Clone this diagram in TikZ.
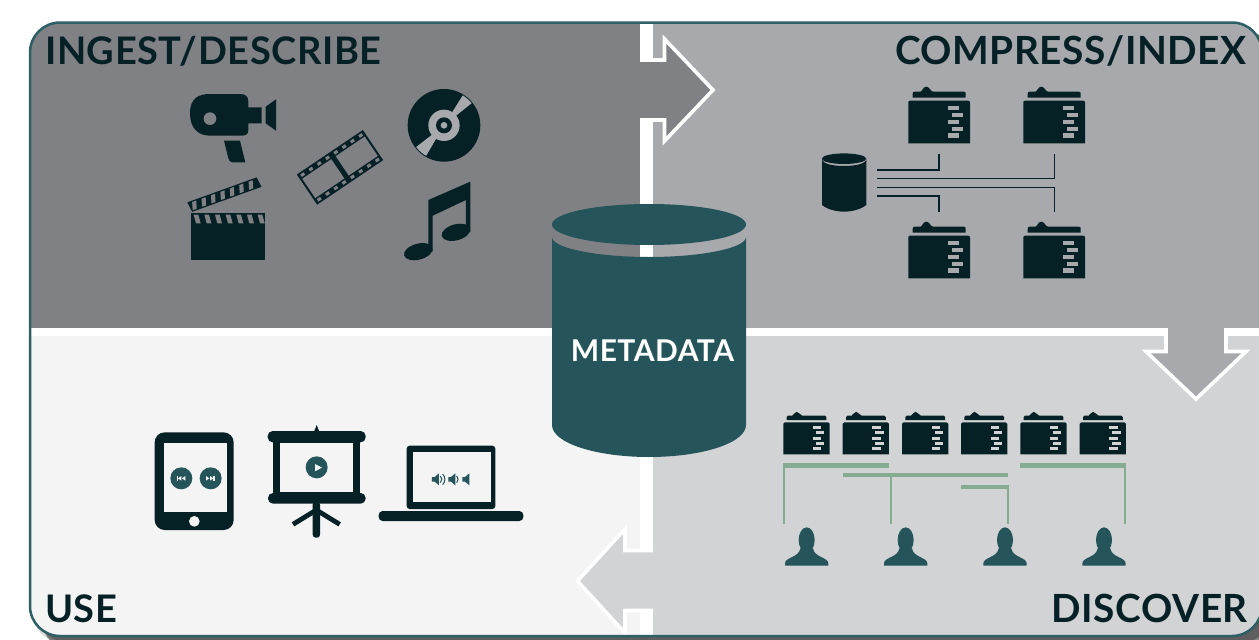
\documentclass[tikz,border=0pt]{standalone}
\usepackage{fontspec}
\setmainfont{Lato}[LetterSpace=1.5]
\definecolor{qa}{HTML}{808184}
\definecolor{qb}{HTML}{A7A9AC}
\definecolor{qc}{HTML}{D1D3D4}
\definecolor{qd}{HTML}{F4F4F5}
\definecolor{ink}{HTML}{062126}
\definecolor{teal}{HTML}{25555B}
\definecolor{rim}{HTML}{2D5F64}
\definecolor{leaf}{HTML}{85AB93}
\tikzset{
  heading/.style={font=\fontsize{38}{38}\selectfont\bfseries,text=ink,inner sep=0pt},
  heading wide/.style={font=\fontsize{38.8}{38}\selectfont\bfseries,text=ink,inner sep=0pt},
  arrowedge/.style={draw=white,line width=3.6pt,miter limit=10},
  tiny link/.style={draw=ink,line width=1.6pt},
  green bar/.style={fill=leaf},
  green link/.style={draw=leaf,line width=1.7pt},
}
\newcommand{\folderico}[4]{%
  \begin{scope}[shift={(#1,#2)},scale=#3]
    \fill[ink] (0,42.6) -- (0,2) .. controls (0,.5) and (.5,0) .. (2,0) -- (59.7,0) .. controls (61.2,0) and (61.7,.5) .. (61.7,2) -- (61.7,42.6) -- cycle;
    \fill[ink] (4.4,-3) -- (4.4,-7) .. controls (4.4,-8.5) and (5,-9) .. (6.5,-9) -- (12,-9) .. controls (14,-9) and (14.5,-14) .. (18,-14) .. controls (21.5,-14) and (22,-9) .. (25,-9) -- (55.4,-9) .. controls (57,-9) and (57.4,-8.5) .. (57.4,-7) -- (57.4,-3) -- cycle;
    \fill[#4] (39.4,5.3) rectangle (50.4,9.3);
    \fill[#4] (43.4,12) rectangle (54.4,16);
    \fill[#4] (39.4,19) rectangle (50.4,23);
    \fill[#4] (43.4,26) rectangle (54.4,30);
    \fill[#4] (39.4,32.7) rectangle (50.4,37);
  \end{scope}}
\newcommand{\personico}[1]{%
  \begin{scope}[shift={(#1,0)}]
    \fill[teal] (-65,497) -- (65,497) -- (65,490) .. controls (65,472) and (22,472) .. (19,445) -- (-19,445) .. controls (-22,472) and (-65,472) .. (-65,490) -- cycle;
    \fill[teal] (0,420) ellipse [x radius=24,y radius=38];
  \end{scope}}
\newcommand{\speakerico}[1]{%
  \fill[teal] (#1,186) -- (#1+8,186) -- (#1+21,175) -- (#1+21,211) -- (#1+8,200) -- (#1,200) -- cycle;}
\begin{document}
\begin{tikzpicture}[x=1pt,y=-1pt]
\useasboundingbox (0,0) rectangle (1259,640);
% shadow
\fill[black,opacity=.14] (33,30) [rounded corners=30pt] rectangle (1272,643);
\fill[black,opacity=.22] (37,30) [rounded corners=30pt] rectangle (1272,642);
\fill[black,opacity=.45] (42,30) [rounded corners=30pt] rectangle (1272,650);
\fill[white] (30,22.5) [rounded corners=30pt] rectangle (1262,636);
\begin{scope}
  \clip[rounded corners=30pt] (30,22.5) rectangle (1262,636);
  \fill[qa] (30,20) rectangle (640,328);
  \fill[qb] (653,20) rectangle (1265,327.5);
  \fill[qd] (30,336) rectangle (640,640);
  \fill[qc] (653,336) rectangle (1265,640);
  % right arrow
  \fill[qa] (640,60) -- (664.5,60) -- (664.5,39) -- (713,90) -- (664.5,141) -- (664.5,120) -- (640,120) -- cycle;
  \draw[arrowedge] (640,60) -- (664.5,60) -- (664.5,39) -- (713,90) -- (664.5,141) -- (664.5,120) -- (640,120);
  % down arrow
  \fill[qb] (1166,327) -- (1166,351.5) -- (1146,351.5) -- (1196,399) -- (1246,351.5) -- (1226,351.5) -- (1226,327) -- cycle;
  \draw[arrowedge] (1166,328) -- (1166,351.5) -- (1146,351.5) -- (1196,399) -- (1246,351.5) -- (1226,351.5) -- (1226,328);
  % left arrow
  \fill[qc] (653,550.5) -- (625,550.5) -- (625,529) -- (577.5,581) -- (625,633) -- (625,610.5) -- (653,610.5) -- cycle;
  \draw[arrowedge] (653,550.5) -- (625,550.5) -- (625,529) -- (577.5,581) -- (625,633) -- (625,610.5) -- (653,610.5);
\end{scope}
\draw[rim,line width=2.5pt,rounded corners=30pt] (30,22.5) rectangle (1262,636);
% headings
\node[heading,anchor=base west] (ingest) at (45,64) {INGEST/DESCRIBE};
\node[heading wide,anchor=base east] (compress) at (1247,64) {COMPRESS/INDEX};
\node[heading,anchor=base west] (use) at (45,622.5) {USE};
\node[heading wide,anchor=base east] (discover) at (1248,622.5) {DISCOVER};
% central cylinder
\fill[teal] (552,237) .. controls (552,248) and (596,257) .. (649,257) .. controls (702,257) and (746,248) .. (746,237) -- (746,425) .. controls (746,443) and (702,457) .. (649,457) .. controls (596,457) and (552,443) .. (552,425) -- cycle;
\fill[teal] (649,224.5) ellipse [x radius=97,y radius=20.5];
\node[font=\fontsize{30}{30}\selectfont\bfseries,text=white,inner sep=0pt,anchor=base] (metadata) at (652.5,361.7) {METADATA};
% ingest icons
\begin{scope}[shift={(160,70)},scale=1/3]
  % camera
  \fill[ink] (90,130) .. controls (90,85) and (115,72) .. (150,72) -- (240,72) .. controls (258,72) and (265,80) .. (265,95) -- (265,112) -- (305,112) -- (305,160) -- (265,160) -- (265,180) .. controls (265,192) and (258,197) .. (245,197) -- (150,197) .. controls (115,197) and (90,175) .. (90,130) -- cycle;
  \fill[qa] (150,146) circle [radius=19];
  \fill[ink] (317,110) -- (348,88) -- (348,182) -- (317,160) -- cycle;
  \fill[ink] (192,212) -- (240,212) -- (256,277) -- (218,277) .. controls (210,277) and (207,272) .. (205,265) -- cycle;
  % film
  \begin{scope}[shift={(540,292)},rotate=34]
    \fill[ink] (-119.5,-54.5) rectangle (119.5,54.5);
    \fill[qa] (-113,-35) rectangle (-8,35);
    \fill[qa] (8,-35) rectangle (113,35);
    \foreach \k in {-105,-75,-45,-15,15,45,75,105} {
      \fill[qa] (\k-6,-49) rectangle (\k+6,-40);
      \fill[qa] (\k-6,40) rectangle (\k+6,49);
    }
  \end{scope}
  % disc
  \fill[ink] (852,166) circle [radius=109];
  \begin{scope}
    \clip (852,166) circle [radius=106];
    \fill[qb] (852,166) -- (922,54) -- (952,86) -- cycle;
    \fill[qb] (852,166) -- (752,244) -- (784,282) -- cycle;
  \end{scope}
  \fill[qb] (852,166) circle [radius=47];
  \fill[ink] (852,166) circle [radius=24];
  \fill[qb] (852,166) circle [radius=10];
  % clapper
  \fill[ink] (94,430) rectangle (316,570);
  \foreach \i in {0,...,6} {
    \fill[qa] ({101+\i*32},434) -- ({115+\i*32},434) -- ({122+\i*32},460) -- ({108+\i*32},460) -- cycle;
  }
  \begin{scope}[shift={(82,397)},rotate=19.8]
    \fill[ink] (0,0) -- (221,0) -- (225,31.6) -- (4,31.6) -- cycle;
    \foreach \i in {0,...,6} {
      \fill[qa] ({14+\i*30},4) -- ({27+\i*30},4) -- ({20+\i*30},27.6) -- ({7+\i*30},27.6) -- cycle;
    }
  \end{scope}
  % notes
  \fill[ink] (805,390) -- (931,335) -- (931,485) -- (918,485) -- (918,390) -- (818,437) -- (818,545) -- (805,545) -- cycle;
  \fill[ink,rotate around={15:(775,545)}] (775,545) ellipse [x radius=44,y radius=24];
  \fill[ink,rotate around={15:(888,487)}] (888,487) ellipse [x radius=44,y radius=24];
\end{scope}
% compress icons
\folderico{908.3}{100.7}{1}{qb}
\folderico{1023.3}{100.7}{1}{qb}
\folderico{908.3}{235.7}{1}{qb}
\folderico{1023.3}{235.7}{1}{qb}
\fill[ink] (822,158.7) -- (822,205) .. controls (828,210) and (838,211.7) .. (844,211.7) .. controls (850,211.7) and (860,210) .. (866.3,205) -- (866.3,158.7) .. controls (866.3,164) and (855,166) .. (844,166) .. controls (833,166) and (822,164) .. (822,158.7) -- cycle;
\fill[ink] (844,158.7) ellipse [x radius=22.2,y radius=5.3];
\draw[tiny link] (877,170) -- (938.7,170) -- (938.7,154.3);
\draw[tiny link] (877,178.3) -- (1054.3,178.3) -- (1054.3,154.3);
\draw[tiny link] (877,187.3) -- (1054.3,187.3) -- (1054.3,211.7);
\draw[tiny link] (877,195.7) -- (938.7,195.7) -- (938.7,211.7);
% discover icons
\foreach \fx in {783.3,842.7,902,961,1020.3,1079.7} {
  \folderico{\fx}{422.3}{0.75}{qc}
}
\begin{scope}[shift={(770,400)},scale=1/3]
  \fill[green bar] (40,190) rectangle (356,203);
  \fill[green bar] (218,218) rectangle (715,231);
  \fill[green bar] (574,254) rectangle (715,266);
  \fill[green bar] (751,190) rectangle (1068,203);
  \draw[green link] (41,190) -- (41,372);
  \draw[green link] (362,231) -- (362,372);
  \draw[green link] (713,254) -- (713,372);
  \draw[green link] (1066,190) -- (1066,372);
  \personico{110}
  \personico{407}
  \personico{705}
  \personico{1002}
\end{scope}
% use icons
\begin{scope}[shift={(140,415)},scale=1/3]
  % tablet
  \fill[ink,rounded corners=10pt] (44,52) rectangle (281,345);
  \fill[qd] (73,84) rectangle (260,290);
  \fill[qd] (163,319) circle [radius=16];
  \fill[teal] (124,190) circle [radius=33];
  \fill[teal] (212,190) circle [radius=33];
  \fill[qd] (110,183) rectangle (114,197);
  \fill[qd] (124,183) -- (124,197) -- (114,190) -- cycle;
  \fill[qd] (136,183) -- (136,197) -- (126,190) -- cycle;
  \fill[qd] (198,183) -- (198,197) -- (208,190) -- cycle;
  \fill[qd] (210,183) -- (210,197) -- (220,190) -- cycle;
  \fill[qd] (220,183) rectangle (224,197);
  % projector
  \fill[ink] (530,30) -- (538,50) -- (522,50) -- cycle;
  \fill[ink] (398,70) rectangle (660,250);
  \fill[qd] (420,84) rectangle (640,232);
  \fill[ink,rounded corners=5pt] (383,48) rectangle (677,82);
  \fill[ink,rounded corners=5pt] (384,234) rectangle (677,266);
  \fill[ink,rounded corners=3pt] (518,260) rectangle (540,368);
  \draw[ink,line width=4.8pt] (529,285) -- (459,328);
  \draw[ink,line width=4.8pt] (529,285) -- (599,328);
  \fill[teal] (530,157) circle [radius=33];
  \fill[qd] (525,147) -- (546,158) -- (525,169) -- cycle;
  % laptop
  \fill[ink,rounded corners=3pt] (800,92) rectangle (1066,282);
  \fill[qd] (818,112) rectangle (1052,262);
  \fill[ink,rounded corners=4pt] (716,288) rectangle (1150,318);
  \speakerico{876}
  \draw[teal,line width=1pt] (901,183) .. controls (907,189) and (907,197) .. (901,203);
  \draw[teal,line width=1pt] (908,177) .. controls (917,187) and (917,199) .. (908,209);
  \speakerico{925}
  \draw[teal,line width=1pt] (950,183) .. controls (956,189) and (956,197) .. (950,203);
  \speakerico{967}
\end{scope}
\end{tikzpicture}
\end{document}
